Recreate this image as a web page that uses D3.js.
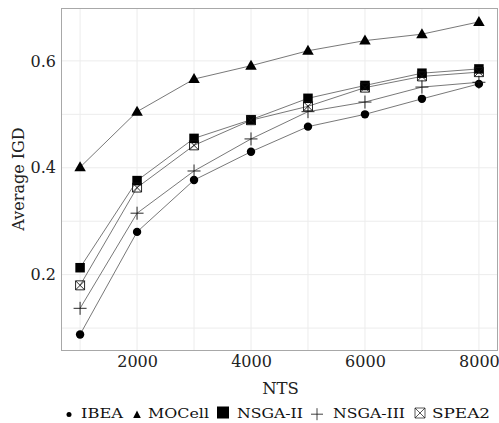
<!DOCTYPE html>
<html>
<head>
<meta charset="utf-8">
<script src="https://cdn.jsdelivr.net/npm/d3@7"></script>
<style>
  html, body { margin: 0; padding: 0; background: #fff; }
  svg { display: block; }
  text { font-family: "DejaVu Serif", serif; }
</style>
</head>
<body>
<svg id="chart" width="499" height="423"></svg>
<script>
// Number of test steps (x) and average IGD per algorithm (y)
const nts = [1000, 2000, 3000, 4000, 5000, 6000, 7000, 8000];
const algorithms = ["IBEA", "MOCell", "NSGA-II", "NSGA-III", "SPEA2"];
const ibea    = [0.088, 0.280, 0.377, 0.430, 0.477, 0.500, 0.529, 0.557];
const mocell  = [0.401, 0.505, 0.566, 0.591, 0.619, 0.638, 0.650, 0.673];
const nsga2   = [0.213, 0.376, 0.455, 0.490, 0.530, 0.554, 0.577, 0.585];
const nsga3   = [0.137, 0.315, 0.394, 0.454, 0.505, 0.523, 0.551, 0.560];
const spea2   = [0.180, 0.363, 0.442, 0.489, 0.515, 0.550, 0.571, 0.579];
const seriesValues = [ibea, mocell, nsga2, nsga3, spea2];
const xTicks = [2000, 4000, 6000, 8000];
const yTicks = [0.2, 0.4, 0.6];
const xMinor = [1000, 3000, 5000, 7000];
const yMinor = [0.1, 0.3, 0.5];

const svg = d3.select("#chart");
const margin = { left: 61, top: 8, right: 1, bottom: 73 };
const W = 499, H = 423;

const x = d3.scaleLinear().domain([665, 8335]).range([margin.left, W - margin.right]);
const y = d3.scaleLinear().domain([0.059, 0.699]).range([H - margin.bottom, margin.top]);

const grid = svg.append("g");
const gridColor = "#ececec";
grid.selectAll("line.vx").data(xTicks.concat(xMinor)).join("line")
  .attr("x1", d => x(d)).attr("x2", d => x(d))
  .attr("y1", y.range()[0]).attr("y2", y.range()[1])
  .attr("stroke", gridColor).attr("stroke-width", 1);
grid.selectAll("line.hy").data(yTicks.concat(yMinor)).join("line")
  .attr("y1", d => y(d)).attr("y2", d => y(d))
  .attr("x1", x.range()[0]).attr("x2", x.range()[1])
  .attr("stroke", gridColor).attr("stroke-width", 1);

// Axes: labels only, no tick marks
const xAxis = svg.append("g")
  .attr("transform", `translate(0,${y.range()[0]})`)
  .call(d3.axisBottom(x).tickValues(xTicks).tickFormat(d3.format("d")).tickSize(0).tickPadding(6));
const yAxis = svg.append("g")
  .attr("transform", `translate(${x.range()[0]},0)`)
  .call(d3.axisLeft(y).tickValues(yTicks).tickFormat(d3.format(".1f")).tickSize(0).tickPadding(5));
[xAxis, yAxis].forEach(a => {
  a.select(".domain").remove();
  a.selectAll("text").attr("font-family", "DejaVu Serif").attr("font-size", 16).attr("fill", "#222");
});

// Panel border
svg.append("rect")
  .attr("x", x.range()[0] + 0.5).attr("y", y.range()[1] + 0.5)
  .attr("width", x.range()[1] - x.range()[0] - 1)
  .attr("height", y.range()[0] - y.range()[1])
  .attr("fill", "none").attr("stroke", "#a8a8a8").attr("stroke-width", 1);

// Lines
const line = d3.line().x((d, i) => x(nts[i])).y(d => y(d));
const lines = svg.append("g");
seriesValues.forEach(vals => {
  lines.append("path").attr("d", line(vals))
    .attr("fill", "none").attr("stroke", "#555").attr("stroke-width", 0.8);
});

// Marker shapes, one per algorithm; s scales the size
function drawMarker(g, name, cx, cy, s) {
  if (name === "IBEA") {
    g.append("circle").attr("cx", cx).attr("cy", cy).attr("r", 4.2 * s).attr("fill", "#000");
  } else if (name === "MOCell") {
    const h = 10 * s, w = 11.5 * s;
    g.append("path")
      .attr("d", `M${cx},${cy - h * 0.6} L${cx + w / 2},${cy + h * 0.4} L${cx - w / 2},${cy + h * 0.4} Z`)
      .attr("fill", "#000");
  } else if (name === "NSGA-II") {
    const a = 9.5 * s;
    g.append("rect").attr("x", cx - a / 2).attr("y", cy - a / 2).attr("width", a).attr("height", a)
      .attr("fill", "#000");
  } else if (name === "NSGA-III") {
    const a = 6.5 * s;
    g.append("path").attr("d", `M${cx - a},${cy} H${cx + a} M${cx},${cy - a} V${cy + a}`)
      .attr("stroke", "#111").attr("stroke-width", 0.9).attr("fill", "none");
  } else if (name === "SPEA2") {
    const a = 4.5 * s;
    g.append("path")
      .attr("d", `M${cx - a},${cy - a} H${cx + a} V${cy + a} H${cx - a} Z M${cx - a},${cy - a} L${cx + a},${cy + a} M${cx + a},${cy - a} L${cx - a},${cy + a}`)
      .attr("stroke", "#111").attr("stroke-width", 0.9).attr("fill", "none");
  }
}

const pts = svg.append("g");
algorithms.forEach((name, k) => {
  seriesValues[k].forEach((v, i) => drawMarker(pts, name, x(nts[i]), y(v), 1));
});

// Axis titles
svg.append("text")
  .attr("x", (x.range()[0] + x.range()[1]) / 2 + 1).attr("y", 394)
  .attr("text-anchor", "middle").attr("font-size", 16.5).attr("fill", "#222")
  .text("NTS");
svg.append("text")
  .attr("transform", `translate(24,${(y.range()[0] + y.range()[1]) / 2}) rotate(-90)`)
  .attr("text-anchor", "middle").attr("font-size", 16).attr("fill", "#222")
  .text("Average IGD");

// Legend row under the panel: symbol, then label
const legendBaseline = 418;
const legendSymX  = [69, 137, 223, 317, 420];
const legendTextX = [81, 148, 237, 333, 432];
const legendTextW = [42, 61, 66, 72, 58];
const legend = svg.append("g");
algorithms.forEach((name, i) => {
  const cx = legendSymX[i];
  if (name === "IBEA") {
    legend.append("circle").attr("cx", cx).attr("cy", legendBaseline - 3.6).attr("r", 2.5).attr("fill", "#000");
  } else if (name === "MOCell") {
    legend.append("path")
      .attr("d", `M${cx},${legendBaseline - 7.5} L${cx + 3.8},${legendBaseline} L${cx - 3.8},${legendBaseline} Z`)
      .attr("fill", "#000");
  } else if (name === "NSGA-II") {
    legend.append("rect").attr("x", cx - 6).attr("y", legendBaseline - 11.5)
      .attr("width", 12).attr("height", 12).attr("fill", "#000");
  } else if (name === "NSGA-III") {
    const cy = legendBaseline - 3.8;
    legend.append("path").attr("d", `M${cx - 6},${cy} H${cx + 6} M${cx},${cy - 6} V${cy + 6}`)
      .attr("stroke", "#111").attr("stroke-width", 0.8).attr("fill", "none");
  } else {
    const a = 5, cy = legendBaseline - 5;
    legend.append("path")
      .attr("d", `M${cx - a},${cy - a} H${cx + a} V${cy + a} H${cx - a} Z M${cx - a},${cy - a} L${cx + a},${cy + a} M${cx + a},${cy - a} L${cx - a},${cy + a}`)
      .attr("stroke", "#111").attr("stroke-width", 0.7).attr("fill", "none");
  }
  legend.append("text")
    .attr("x", legendTextX[i]).attr("y", legendBaseline)
    .attr("font-size", 12).attr("fill", "#111")
    .attr("textLength", legendTextW[i]).attr("lengthAdjust", "spacingAndGlyphs")
    .text(name);
});
</script>
</body>
</html>
